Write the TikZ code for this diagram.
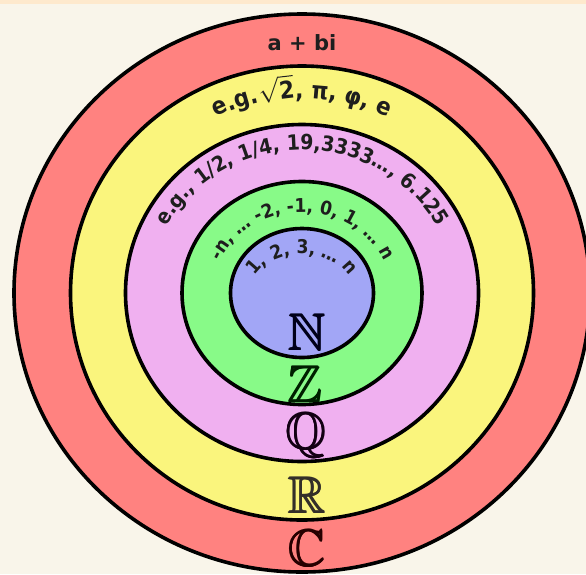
\documentclass[tikz,border=0pt]{standalone}
\usepackage{fontspec}
\setmainfont{DejaVu Sans}
\newfontfamily\condfont{DejaVu Sans Condensed}
\usepackage{amssymb}
\usetikzlibrary{decorations.text,calc}
\definecolor{bgcol}{RGB}{249,245,234}
\definecolor{topcol}{RGB}{254,233,205}
\definecolor{cred}{RGB}{255,130,128}
\definecolor{cyellow}{RGB}{250,245,125}
\definecolor{cpink}{RGB}{240,176,240}
\definecolor{cgreen}{RGB}{136,250,136}
\definecolor{cblue}{RGB}{162,166,246}
\definecolor{ink}{RGB}{30,30,30}
\newcommand\heavyglyph[1]{\rlap{\kern-0.5pt#1}\rlap{\kern0.5pt#1}\rlap{\raisebox{0.45pt}{#1}}#1}
\begin{document}
\begin{tikzpicture}[x=1pt,y=1pt,
  ring/.style={draw=black,line width=3.6pt},
  arctext/.style={decorate,decoration={text along path,text align=center,text color=ink}},
  bigset/.style={font=\fontsize{52}{52}\selectfont,anchor=base,inner sep=0pt}]
\useasboundingbox (0,0) rectangle (586,-574);
\clip (0,0) rectangle (586,-574);
\fill[bgcol] (0,0) rectangle (586,-574);
\fill[topcol] (0,0) rectangle (586,-4);
\coordinate (c) at (302,-293);
% rings
\draw[ring,fill=cred]    (c) ellipse [x radius=288pt, y radius=279pt];
\draw[ring,fill=cyellow] (c) ellipse [x radius=231.5pt, y radius=227pt];
\draw[ring,fill=cpink]   (c) ellipse [x radius=176.5pt, y radius=168.5pt];
\draw[ring,fill=cgreen]  (c) ellipse [x radius=120pt, y radius=111.5pt];
\draw[ring,fill=cblue]   (c) ellipse [x radius=71.5pt, y radius=64.5pt];
% labels
\node[font=\fontsize{21}{21}\selectfont\bfseries,anchor=base,text=ink] (cplx) at (302,-50) {a + bi};
\path[arctext,decoration={text={|\condfont\fontsize{24}{24}\selectfont\bfseries|e.g.{$\sqrt{\hbox{2}}$}, π, φ, e}}]
  ($(c)+(178:201pt and 195pt)$) arc[start angle=178,end angle=2,x radius=201pt,y radius=195pt];
\path[arctext,decoration={text={|\condfont\fontsize{21}{21}\selectfont\bfseries|e.g., 1/2, 1/4, 19,3333…, 6.125}}]
  ($(c)+(178:153pt and 143pt)$) arc[start angle=178,end angle=2,x radius=153pt,y radius=143pt];
\path[arctext,decoration={text={|\condfont\fontsize{19}{19}\selectfont\bfseries|-n, … -2, -1, 0, 1, … n}}]
  ($(c)+(178:89pt and 81pt)$) arc[start angle=178,end angle=2,x radius=89pt,y radius=81pt];
\path[arctext,decoration={text={|\condfont\fontsize{19}{19}\selectfont\bfseries|1, 2, 3, … n}}]
  ($(c)+(178:52pt and 39pt)$) arc[start angle=178,end angle=2,x radius=52pt,y radius=39pt];
% set letters
\node[bigset,text=black!90!blue] (nat) at (307,-350) {\heavyglyph{$\mathbb{N}$}};
\node[bigset,text=black!88!green] (int) at (305,-402) {\heavyglyph{$\mathbb{Z}$}};
\node[bigset,text=black!85!violet] (rat) at (306,-449) {\heavyglyph{$\mathbb{Q}$}};
\node[bigset,text=black!85!olive] (rea) at (307,-513) {\heavyglyph{$\mathbb{R}$}};
\node[bigset,text=black!85!red] (com) at (307,-566) {\heavyglyph{$\mathbb{C}$}};
\end{tikzpicture}
\end{document}
